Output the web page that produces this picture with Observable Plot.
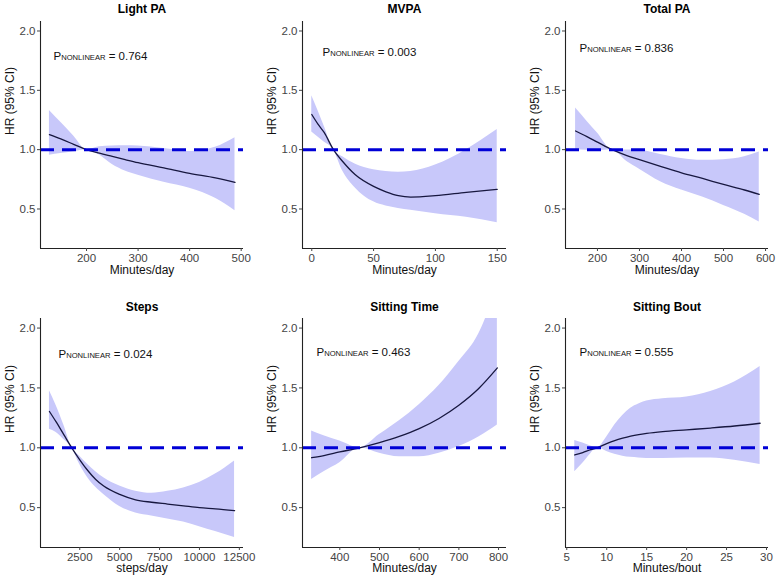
<!DOCTYPE html>
<html><head><meta charset="utf-8">
<script src="https://cdn.jsdelivr.net/npm/d3@7"></script>
<script src="https://cdn.jsdelivr.net/npm/@observablehq/plot@0.6"></script>
<style>
body{margin:0;background:#fff;}
#wrap{position:relative;width:780px;height:580px;background:#fff;font-family:"Liberation Sans",Arial,sans-serif;}
#wrap svg{position:absolute;}
</style></head><body><div id="wrap"></div>
<script>
// ---- data ----
const panelTitles = ["Light PA", "MVPA", "Total PA", "Steps", "Sitting Time", "Sitting Bout"];
const xLabels = ["Minutes/day", "Minutes/day", "Minutes/day", "steps/day", "Minutes/day", "Minutes/bout"];
const pNonlinear = ["0.764", "0.003", "0.836", "0.024", "0.463", "0.555"];
const yTicks = [0.5, 1.0, 1.5, 2.0];
const refHR = [1];

const lightX  = [128, 150, 175, 200, 225, 250, 275, 300, 350, 400, 450, 488];
const lightHR = [1.126, 1.09, 1.045, 1.0, 0.97, 0.943, 0.916, 0.89, 0.846, 0.80, 0.762, 0.724];
const lightLo = [0.953, 0.967, 0.983, 1.0, 0.955, 0.875, 0.82, 0.785, 0.725, 0.675, 0.59, 0.486];
const lightHi = [1.33, 1.23, 1.115, 1.0, 1.025, 1.03, 1.032, 1.03, 1.01, 0.985, 1.02, 1.10];
const lightTicks = [200, 300, 400, 500];

const mvpaX  = [0, 5, 10, 17.5, 25, 35, 50, 60, 70, 80, 100, 125, 150];
const mvpaHR = [1.296, 1.215, 1.145, 1.0, 0.9, 0.79, 0.69, 0.645, 0.612, 0.60, 0.612, 0.64, 0.665];
const mvpaLo = [1.148, 1.106, 1.064, 1.0, 0.82, 0.68, 0.56, 0.525, 0.505, 0.49, 0.46, 0.43, 0.385];
const mvpaHi = [1.455, 1.33, 1.2, 1.0, 0.94, 0.88, 0.83, 0.815, 0.81, 0.815, 0.87, 1.0, 1.17];
const mvpaTicks = [0, 50, 100, 150];

const totalX  = [148, 175, 200, 235, 270, 300, 350, 400, 450, 500, 550, 585];
const totalHR = [1.157, 1.11, 1.064, 1.0, 0.95, 0.916, 0.86, 0.805, 0.757, 0.707, 0.66, 0.623];
const totalLo = [1.0, 0.995, 0.993, 1.0, 0.90, 0.835, 0.73, 0.66, 0.60, 0.53, 0.455, 0.39];
const totalHi = [1.35, 1.24, 1.14, 1.0, 0.998, 0.995, 0.96, 0.925, 0.91, 0.915, 0.94, 0.98];
const totalTicks = [200, 300, 400, 500, 600];

const stepsX  = [600, 1000, 1500, 2000, 2500, 3000, 3500, 4000, 5000, 6000, 7000, 8000, 9000, 10000, 11000, 12200];
const stepsHR = [1.303, 1.22, 1.11, 1.0, 0.90, 0.81, 0.735, 0.68, 0.61, 0.565, 0.545, 0.53, 0.515, 0.50, 0.49, 0.475];
const stepsLo = [1.155, 1.13, 1.07, 1.0, 0.86, 0.75, 0.67, 0.61, 0.51, 0.455, 0.43, 0.405, 0.38, 0.34, 0.30, 0.25];
const stepsHi = [1.477, 1.36, 1.19, 1.0, 0.93, 0.86, 0.80, 0.75, 0.68, 0.637, 0.62, 0.636, 0.665, 0.71, 0.78, 0.89];
const stepsTicks = [2500, 5000, 7500, 10000, 12500];

const sitX  = [329, 360, 400, 450, 500, 550, 600, 650, 700, 750, 797];
const sitHR = [0.917, 0.935, 0.965, 1.0, 1.043, 1.095, 1.16, 1.245, 1.355, 1.495, 1.667];
const sitLo = [0.735, 0.80, 0.875, 1.0, 0.955, 0.925, 0.925, 0.955, 1.01, 1.09, 1.19];
const sitHi = [1.14, 1.10, 1.057, 1.0, 1.11, 1.225, 1.36, 1.52, 1.72, 1.95, 2.35];
const sitTicks = [400, 500, 600, 700, 800];

const boutX  = [6, 7, 8, 8.8, 10, 11, 12, 13, 14, 15, 17, 20, 23, 26, 29.2];
const boutHR = [0.94, 0.96, 0.985, 1.0, 1.035, 1.06, 1.08, 1.097, 1.11, 1.12, 1.135, 1.15, 1.165, 1.182, 1.205];
const boutLo = [0.80, 0.87, 0.95, 1.0, 0.97, 0.945, 0.93, 0.92, 0.915, 0.91, 0.91, 0.915, 0.915, 0.895, 0.86];
const boutHi = [1.06, 1.04, 1.015, 1.0, 1.09, 1.19, 1.27, 1.33, 1.365, 1.39, 1.41, 1.425, 1.47, 1.55, 1.68];
const boutTicks = [5, 10, 15, 20, 25, 30];

// ---- layout / styling ----
const series = [
  {x: lightX, est: lightHR, lo: lightLo, hi: lightHi, ticks: lightTicks, domain: [110.7, 504.5]},
  {x: mvpaX, est: mvpaHR, lo: mvpaLo, hi: mvpaHi, ticks: mvpaTicks, domain: [-7.5, 157.5]},
  {x: totalX, est: totalHR, lo: totalLo, hi: totalHi, ticks: totalTicks, domain: [124, 607]},
  {x: stepsX, est: stepsHR, lo: stepsLo, hi: stepsHi, ticks: stepsTicks, domain: [40, 12760]},
  {x: sitX, est: sitHR, lo: sitLo, hi: sitHi, ticks: sitTicks, domain: [306, 820]},
  {x: boutX, est: boutHR, lo: boutLo, hi: boutHi, ticks: boutTicks, domain: [4.84, 30.25]}
];
const colLeft = [40, 42, 45], colRight = [17, 14, 12];
const rowTop = [21, 28], rowBottom = [42, 33];
const pOffset = [[13, 35], [20, 31], [14, 27], [18, 36], [14, 34], [14, 34]];
const yDomain = [0.167, 2.08];
const font = "'Liberation Sans', Arial, sans-serif";

const wrap = document.getElementById("wrap");

series.forEach((s, i) => {
  const col = i % 3, row = Math.floor(i / 3);
  const data = s.x.map((x, j) => ({x, est: s.est[j], lo: s.lo[j], hi: s.hi[j]}));
  const svg = Plot.plot({
    width: 260, height: 290,
    marginLeft: colLeft[col], marginRight: colRight[col],
    marginTop: rowTop[row], marginBottom: rowBottom[row],
    style: {fontFamily: font, fontSize: "11.5px", background: "white", color: "#4d4d4d", overflow: "visible"},
    x: {domain: s.domain},
    y: {domain: yDomain},
    marks: [
      Plot.areaY(data, {x: "x", y1: "lo", y2: "hi", fill: "#c8c8fa", curve: "monotone-x", clip: true}),
      Plot.line(data, {x: "x", y: "est", stroke: "#17173f", strokeWidth: 1.3, curve: "monotone-x", clip: true}),
      Plot.ruleY(refHR, {stroke: "#0000d6", strokeWidth: 3, strokeDasharray: "14,8"}),
      Plot.ruleY([yDomain[0]], {stroke: "#222", strokeWidth: 1.1}),
      Plot.ruleX([s.domain[0]], {stroke: "#222", strokeWidth: 1.1}),
      Plot.axisX(s.ticks, {tickSize: 3, tickPadding: 2, label: null, tickFormat: d => String(d), color: "#444", fontSize: 11.5}),
      Plot.axisY(yTicks, {tickSize: 3, tickPadding: 2, label: null, tickFormat: d3.format(".1f"), color: "#444", fontSize: 11.5}),
      Plot.text([panelTitles[i]], {text: d => d, frameAnchor: "top", dy: row === 0 ? -12 : -11, lineAnchor: "middle",
        fontWeight: "bold", fontSize: 12, fill: "black"}),
      Plot.text([xLabels[i]], {text: d => d, frameAnchor: "bottom", dy: row === 0 ? 22 : 21, lineAnchor: "middle",
        fontSize: 12, fill: "#111"}),
      Plot.text(["HR (95% CI)"], {text: d => d, frameAnchor: "left", rotate: -90, dx: -30, lineAnchor: "middle",
        fontSize: 12, fill: "#111"}),
      Plot.text(["P|NONLINEAR| = " + pNonlinear[i]], {text: d => d, frameAnchor: "top-left", dx: pOffset[i][0], dy: pOffset[i][1],
        textAnchor: "start", lineAnchor: "middle", fontSize: 11.5, fill: "#111"})
    ]
  });
  svg.style.left = (col * 260) + "px";
  svg.style.top = (row * 290) + "px";
  d3.select(svg).selectAll("text").each(function () {
    const t = this.textContent;
    if (t.indexOf("|NONLINEAR|") >= 0) {
      const parts = t.split("|");
      const sel = d3.select(this);
      sel.text(null);
      sel.append("tspan").text(parts[0]);
      sel.append("tspan").attr("font-size", "7.6px").text(parts[1]);
      sel.append("tspan").text(parts[2].replace(/ /g, "\u00a0"));
    }
  });
  wrap.appendChild(svg);
});
</script>
</body></html>
